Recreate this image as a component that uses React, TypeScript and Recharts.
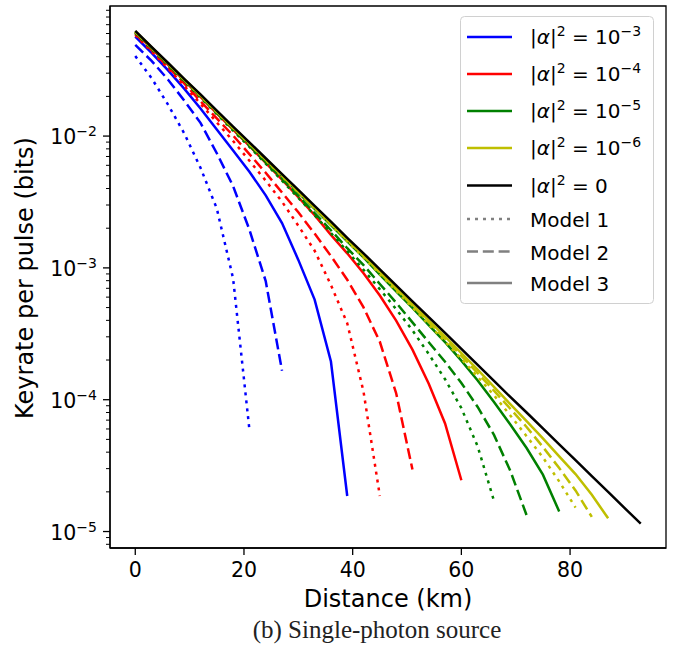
import React from 'react';
import { LineChart, Line, XAxis, YAxis, Legend, ReferenceArea } from 'recharts';

// distance in km, sampled every 3 km
const distance = [0, 3, 6, 9, 12, 15, 18, 21, 24, 27, 30, 33, 36, 39, 42, 45, 48, 51, 54, 57, 60, 63, 66, 69, 72, 75, 78, 81, 84, 87, 90, 93];

// |alpha|^2 = 0 (all models coincide)
const alphaZero = [6.27e-2, 4.74e-2, 3.6e-2, 2.72e-2, 2.07e-2, 1.56e-2, 1.18e-2, 8.97e-3, 6.79e-3, 5.15e-3, 3.9e-3, 2.95e-3, 2.24e-3, 1.69e-3, 1.29e-3, 9.73e-4, 7.36e-4, 5.58e-4, 4.23e-4, 3.21e-4, 2.43e-4, 1.84e-4, 1.39e-4, 1.05e-4, 8.0e-5, 6.05e-5, 4.58e-5, 3.48e-5, 2.63e-5, 2.0e-5, 1.51e-5, 1.15e-5];

// |alpha|^2 = 1e-3
const blueModel1 = [4.05e-2, 2.75e-2, 1.74e-2, 1.05e-2, 5.75e-3, 2.82e-3, 8.32e-4, 5.93e-5];
const blueModel2 = [4.91e-2, 3.72e-2, 2.69e-2, 1.86e-2, 1.26e-2, 7.41e-3, 4.17e-3, 1.95e-3, 7.94e-4, 1.66e-4];
const blueModel3 = [5.69e-2, 4.27e-2, 3.16e-2, 2.29e-2, 1.62e-2, 1.12e-2, 7.76e-3, 5.37e-3, 3.55e-3, 2.19e-3, 1.15e-3, 5.75e-4, 1.95e-4, 1.86e-5];

// |alpha|^2 = 1e-4
const redModel1 = [5.85e-2, 4.38e-2, 3.28e-2, 2.4e-2, 1.76e-2, 1.27e-2, 9.18e-3, 6.5e-3, 4.59e-3, 3.18e-3, 2.09e-3, 1.35e-3, 7.41e-4, 3.8e-4, 1.15e-4, 1.86e-5];
const redModel2 = [5.98e-2, 4.48e-2, 3.36e-2, 2.51e-2, 1.84e-2, 1.36e-2, 1.01e-2, 7.29e-3, 5.27e-3, 3.73e-3, 2.64e-3, 1.82e-3, 1.23e-3, 8.13e-4, 5.01e-4, 2.75e-4, 1.12e-4, 2.95e-5];
const redModel3 = [6.12e-2, 4.61e-2, 3.49e-2, 2.63e-2, 1.98e-2, 1.49e-2, 1.12e-2, 8.41e-3, 6.27e-3, 4.68e-3, 3.44e-3, 2.51e-3, 1.78e-3, 1.29e-3, 9.12e-4, 6.17e-4, 3.98e-4, 2.4e-4, 1.32e-4, 6.61e-5, 2.45e-5];

// |alpha|^2 = 1e-5
const greenModel1 = [6.06e-2, 4.57e-2, 3.45e-2, 2.6e-2, 1.96e-2, 1.47e-2, 1.1e-2, 8.28e-3, 6.19e-3, 4.59e-3, 3.4e-3, 2.51e-3, 1.84e-3, 1.34e-3, 9.68e-4, 6.89e-4, 4.86e-4, 3.36e-4, 2.22e-4, 1.43e-4, 8.63e-5, 4.42e-5, 1.71e-5];
const greenModel2 = [6.13e-2, 4.62e-2, 3.5e-2, 2.63e-2, 2.0e-2, 1.5e-2, 1.13e-2, 8.47e-3, 6.34e-3, 4.75e-3, 3.52e-3, 2.6e-3, 1.93e-3, 1.41e-3, 1.05e-3, 7.55e-4, 5.45e-4, 3.86e-4, 2.73e-4, 1.94e-4, 1.34e-4, 8.81e-5, 5.41e-5, 2.89e-5, 1.33e-5];
const greenModel3 = [6.2e-2, 4.69e-2, 3.55e-2, 2.68e-2, 2.03e-2, 1.53e-2, 1.15e-2, 8.73e-3, 6.57e-3, 4.96e-3, 3.72e-3, 2.8e-3, 2.11e-3, 1.59e-3, 1.2e-3, 8.87e-4, 6.64e-4, 4.97e-4, 3.68e-4, 2.73e-4, 1.98e-4, 1.4e-4, 9.62e-5, 6.48e-5, 4.3e-5, 2.7e-5, 1.42e-5];

// |alpha|^2 = 1e-6
const yellowModel1 = [6.17e-2, 4.66e-2, 3.54e-2, 2.67e-2, 2.02e-2, 1.52e-2, 1.15e-2, 8.71e-3, 6.56e-3, 4.96e-3, 3.74e-3, 2.82e-3, 2.12e-3, 1.59e-3, 1.2e-3, 8.98e-4, 6.71e-4, 5.01e-4, 3.73e-4, 2.76e-4, 2.04e-4, 1.49e-4, 1.08e-4, 7.6e-5, 5.29e-5, 3.65e-5, 2.4e-5, 1.52e-5];
const yellowModel2 = [6.2e-2, 4.69e-2, 3.55e-2, 2.68e-2, 2.03e-2, 1.53e-2, 1.15e-2, 8.75e-3, 6.61e-3, 5.0e-3, 3.78e-3, 2.84e-3, 2.15e-3, 1.62e-3, 1.23e-3, 9.2e-4, 6.9e-4, 5.18e-4, 3.87e-4, 2.9e-4, 2.15e-4, 1.59e-4, 1.17e-4, 8.54e-5, 6.21e-5, 4.38e-5, 3.03e-5, 2.05e-5, 1.29e-5];
const yellowModel3 = [6.23e-2, 4.71e-2, 3.57e-2, 2.7e-2, 2.05e-2, 1.54e-2, 1.16e-2, 8.84e-3, 6.68e-3, 5.07e-3, 3.83e-3, 2.89e-3, 2.19e-3, 1.65e-3, 1.25e-3, 9.4e-4, 7.06e-4, 5.32e-4, 3.99e-4, 3.01e-4, 2.26e-4, 1.69e-4, 1.25e-4, 9.25e-5, 6.89e-5, 5.09e-5, 3.72e-5, 2.73e-5, 1.9e-5, 1.26e-5];

const xTicks = [0, 20, 40, 60, 80];
const yTicks = [1e-5, 1e-4, 1e-3, 1e-2];
const yMinorTicks = [
  8e-6, 9e-6,
  2e-5, 3e-5, 4e-5, 5e-5, 6e-5, 7e-5, 8e-5, 9e-5,
  2e-4, 3e-4, 4e-4, 5e-4, 6e-4, 7e-4, 8e-4, 9e-4,
  2e-3, 3e-3, 4e-3, 5e-3, 6e-3, 7e-3, 8e-3, 9e-3,
  2e-2, 3e-2, 4e-2, 5e-2, 6e-2, 7e-2, 8e-2, 9e-2,
];
const alphaLabels = ['10', '10', '10', '10', '0'];
const alphaExponents = ['−3', '−4', '−5', '−6', ''];
const modelLabels = ['Model 1', 'Model 2', 'Model 3'];

const FONT = '"DejaVu Sans", sans-serif';
const DOT = '3 5';
const DASH = '11 4.8';
const colors = ['#0000ff', '#ff0000', '#008000', '#bfbf00', '#000000'];
const xDomain = [-4.65, 97.65];
const yDomain = [7.5e-6, 0.097];
const PLOT_LEFT = 110;

const series = [
  { key: 'b1', values: blueModel1, color: colors[0], dash: DOT },
  { key: 'b2', values: blueModel2, color: colors[0], dash: DASH },
  { key: 'b3', values: blueModel3, color: colors[0], dash: undefined },
  { key: 'r1', values: redModel1, color: colors[1], dash: DOT },
  { key: 'r2', values: redModel2, color: colors[1], dash: DASH },
  { key: 'r3', values: redModel3, color: colors[1], dash: undefined },
  { key: 'g1', values: greenModel1, color: colors[2], dash: DOT },
  { key: 'g2', values: greenModel2, color: colors[2], dash: DASH },
  { key: 'g3', values: greenModel3, color: colors[2], dash: undefined },
  { key: 'y1', values: yellowModel1, color: colors[3], dash: DOT },
  { key: 'y2', values: yellowModel2, color: colors[3], dash: DASH },
  { key: 'y3', values: yellowModel3, color: colors[3], dash: undefined },
  { key: 'k', values: alphaZero, color: colors[4], dash: undefined },
];

const data = distance.map((d, i) => {
  const row: Record<string, number> = { d };
  series.forEach((s) => {
    if (i < s.values.length) row[s.key] = s.values[i];
  });
  return row;
});

// log axis tick: long tick + 10^n label for decades, short tick for the rest
const LogTick = (props: any) => {
  const { y, payload } = props;
  const major = yTicks.includes(payload.value);
  const len = major ? 7 : 4;
  if (!major) {
    return <line x1={PLOT_LEFT - len} x2={PLOT_LEFT} y1={y} y2={y} stroke="#000" strokeWidth={1} />;
  }
  const exp = Math.round(Math.log10(payload.value));
  return (
    <g>
      <line x1={PLOT_LEFT - len} x2={PLOT_LEFT} y1={y} y2={y} stroke="#000" strokeWidth={1.3} />
      <text x={PLOT_LEFT - 13} y={y + 8} textAnchor="end" fontSize={20.5} fontFamily={FONT} fill="#000">
        10
        <tspan dy={-8} fontSize={14}>{`−${-exp}`}</tspan>
      </text>
    </g>
  );
};

const renderLegend = () => {
  const alphaRowY = [21, 58, 95, 132, 169.5];
  const modelRowY = [203, 235.5, 267];
  const modelDash = [DOT, DASH, undefined];
  return (
    <svg width={196} height={290} style={{ display: 'block' }}>
      <rect x={0.5} y={0.5} width={193} height={287} rx={4} fill="#fff" fillOpacity={0.8} stroke="#d0d0d0" />
      {alphaRowY.map((cy, i) => (
        <g key={`a${i}`}>
          <line x1={7} x2={52} y1={cy} y2={cy} stroke={colors[i]} strokeWidth={2.5} />
          <text x={70} y={cy + 7} fontSize={20} fontFamily={FONT} fill="#000">
            |<tspan fontStyle="italic">α</tspan>|
            <tspan dy={-8} fontSize={14}>2</tspan>
            <tspan dy={8}>{` = ${alphaLabels[i]}`}</tspan>
            {alphaExponents[i] && <tspan dy={-8} fontSize={14}>{alphaExponents[i]}</tspan>}
          </text>
        </g>
      ))}
      {modelRowY.map((cy, i) => (
        <g key={`m${i}`}>
          <line x1={7} x2={52} y1={cy} y2={cy} stroke="#808080" strokeWidth={2.5} strokeDasharray={modelDash[i]} />
          <text x={70} y={cy + 8} fontSize={20} fontFamily={FONT} fill="#000">
            {modelLabels[i]}
          </text>
        </g>
      ))}
    </svg>
  );
};

export default function App() {
  return (
    <div style={{ position: 'absolute', left: 0, top: 0, width: 677, height: 647, background: '#fff' }}>
      <LineChart width={677} height={647} data={data} margin={{ top: 6, right: 11, bottom: 59, left: 0 }}>
        <XAxis
          dataKey="d"
          type="number"
          domain={xDomain}
          ticks={xTicks}
          interval={0}
          allowDataOverflow
          height={40}
          tickSize={7}
          tickMargin={7}
          stroke="#000"
          strokeWidth={1.3}
          tick={{ fontSize: 20.5, fill: '#000', fontFamily: FONT }}
        />
        <YAxis
          yAxisId="y"
          scale="log"
          type="number"
          domain={yDomain}
          allowDataOverflow
          ticks={[...yMinorTicks, ...yTicks]}
          interval={0}
          width={PLOT_LEFT}
          tickLine={false}
          tickSize={7}
          tickMargin={3}
          stroke="#000"
          strokeWidth={1.3}
          tick={<LogTick />}
        />
        <ReferenceArea
          yAxisId="y"
          x1={xDomain[0]}
          x2={xDomain[1]}
          y1={yDomain[0]}
          y2={yDomain[1]}
          fill="none"
          stroke="#000"
          strokeWidth={1.3}
          ifOverflow="visible"
        />
        <Legend
          layout="vertical"
          align="center"
          verticalAlign="middle"
          content={renderLegend}
          wrapperStyle={{ left: 460, top: 16, width: 196, height: 290 }}
        />
        {series.map((s) => (
          <Line
            key={s.key}
            yAxisId="y"
            dataKey={s.key}
            type="linear"
            stroke={s.color}
            strokeWidth={2.5}
            strokeDasharray={s.dash}
            dot={false}
            activeDot={false}
            isAnimationActive={false}
            legendType="none"
          />
        ))}
      </LineChart>
      <svg width={677} height={647} style={{ position: 'absolute', left: 0, top: 0, pointerEvents: 'none' }}>
        <text transform="translate(33,278) rotate(-90)" textAnchor="middle" fontSize={24} fontFamily={FONT} fill="#000">
          Keyrate per pulse (bits)
        </text>
        <text x={388} y={607} textAnchor="middle" fontSize={24} fontFamily={FONT} fill="#000">
          Distance (km)
        </text>
        <text x={377} y={638} textAnchor="middle" fontSize={25} fontFamily='"Liberation Serif", serif' fill="#222">
          (b) Single-photon source
        </text>
      </svg>
    </div>
  );
}
